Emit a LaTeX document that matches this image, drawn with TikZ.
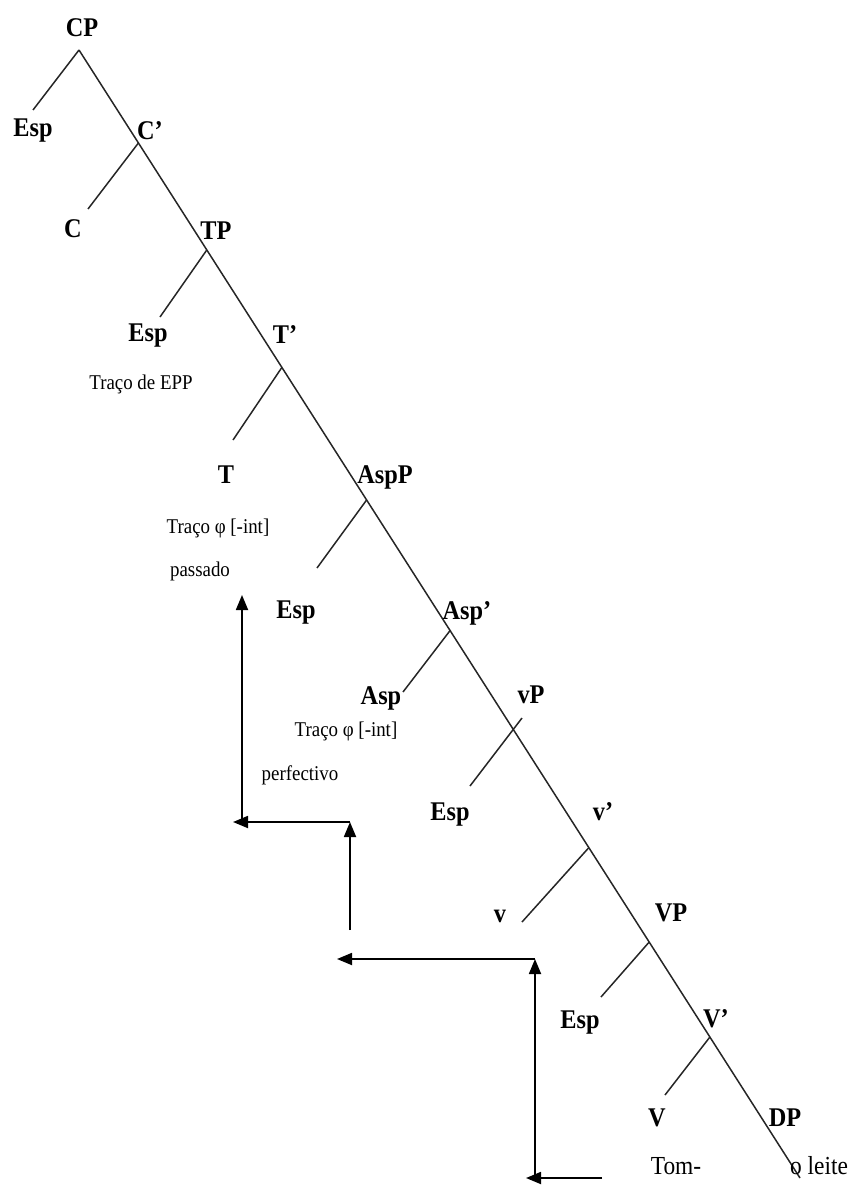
\documentclass[tikz,border=0pt]{standalone}
\usepackage{fontspec}
\setmainfont{Liberation Serif}
\usetikzlibrary{arrows.meta}
\newcommand{\nar}[1]{\scalebox{0.9}[1]{#1}}
\tikzset{
  cat/.style={inner sep=0pt, font=\fontsize{27}{32}\selectfont\bfseries},
  feat/.style={inner sep=0pt, font=\fontsize{21}{25}\selectfont},
  word/.style={inner sep=0pt, font=\fontsize{26}{30}\selectfont},
  branch/.style={line width=1.5pt, black!85},
  movearrow/.style={line width=1.8pt, -{Triangle[length=15pt,width=12pt]}},
}
\begin{document}
\begin{tikzpicture}[x=1pt,y=-1pt]
\useasboundingbox (0,0) rectangle (855,1185);

% junctions on the right-branching spine
\coordinate (jCP) at (79,50);
\coordinate (jC1) at (138.4,143);
\coordinate (jTP) at (206.8,250);
\coordinate (jT1) at (281.5,368);
\coordinate (jAspP) at (366.6,500);
\coordinate (jAsp1) at (450.5,630);
\coordinate (jvP) at (513.5,728);
\coordinate (jv1) at (588.5,848);
\coordinate (jVP) at (649.2,942);
\coordinate (jV1) at (709.9,1037);
\coordinate (spineEnd) at (800,1178);

% lower ends of the left branches
\coordinate (eCP) at (33,110);
\coordinate (eC1) at (88,209);
\coordinate (eTP) at (160,317);
\coordinate (eT1) at (233,440);
\coordinate (eAspP) at (317,568);
\coordinate (eAsp1) at (403,692);
\coordinate (evPtop) at (522,718);
\coordinate (evP) at (470,786);
\coordinate (ev1) at (522,922);
\coordinate (eVP) at (601,997);
\coordinate (eV1) at (665,1095);

% tree lines
\draw[branch] (jCP) -- (spineEnd);
\draw[branch] (jCP) -- (eCP);
\draw[branch] (jC1) -- (eC1);
\draw[branch] (jTP) -- (eTP);
\draw[branch] (jT1) -- (eT1);
\draw[branch] (jAspP) -- (eAspP);
\draw[branch] (jAsp1) -- (eAsp1);
\draw[branch] (evPtop) -- (evP);
\draw[branch] (jv1) -- (ev1);
\draw[branch] (jVP) -- (eVP);
\draw[branch] (jV1) -- (eV1);

% category labels
\node[cat] (CP) at (82,28) {\nar{CP}};
\node[cat] (espC) at (33,131) {\nar{Esp}};
\node[cat] (C1) at (150,131) {\nar{C’}};
\node[cat] (C) at (73,229) {\nar{C}};
\node[cat] (TP) at (216,231) {\nar{TP}};
\node[cat] (espT) at (148,336) {\nar{Esp}};
\node[cat] (T1) at (285,335) {\nar{T’}};
\node[cat] (T) at (226,475) {\nar{T}};
\node[cat] (AspP) at (385,477) {\nar{AspP}};
\node[cat] (espAsp) at (296,613) {\nar{Esp}};
\node[cat] (Asp1) at (467,613) {\nar{Asp’}};
\node[cat] (Asp) at (381,698) {\nar{Asp}};
\node[cat] (vP) at (531,695) {\nar{vP}};
\node[cat] (espv) at (450,815) {\nar{Esp}};
\node[cat] (v1) at (603,812) {\nar{v’}};
\node[cat] (v) at (500,916) {\nar{v}};
\node[cat] (VP) at (671,913) {\nar{VP}};
\node[cat] (espV) at (580,1023) {\nar{Esp}};
\node[cat] (V1) at (716,1019) {\nar{V’}};
\node[cat] (V) at (657,1118) {\nar{V}};
\node[cat] (DP) at (785,1118) {\nar{DP}};

% feature annotations and lexical items
\node[feat] (eppTrace) at (141,384) {\nar{Traço de EPP}};
\node[feat] (phiT) at (218,528) {\nar{Traço φ [-int]}};
\node[feat] (past) at (200,571) {\nar{passado}};
\node[feat] (phiAsp) at (346,731) {\nar{Traço φ [-int]}};
\node[feat] (perf) at (300,775) {\nar{perfectivo}};
\node[word] (tom) at (676,1166) {\nar{Tom-}};
\node[word] (leite) at (819,1166) {\nar{o leite}};

% head-movement path
\coordinate (m1) at (242,822);
\coordinate (m1top) at (242,595);
\coordinate (m2) at (350,822);
\coordinate (m2tip) at (233,822);
\coordinate (m2low) at (350,930);
\coordinate (m3) at (535,959);
\coordinate (m3tip) at (337,959);
\coordinate (m3low) at (535,1178);
\coordinate (m4) at (602,1178);
\coordinate (m4tip) at (526,1178);

\draw[movearrow] (m1) -- (m1top);
\draw[movearrow] (m2) -- (m2tip);
\draw[movearrow] (m2low) -- (m2);
\draw[movearrow] (m3) -- (m3tip);
\draw[movearrow] (m3low) -- (m3);
\draw[movearrow] (m4) -- (m4tip);
\end{tikzpicture}
\end{document}
